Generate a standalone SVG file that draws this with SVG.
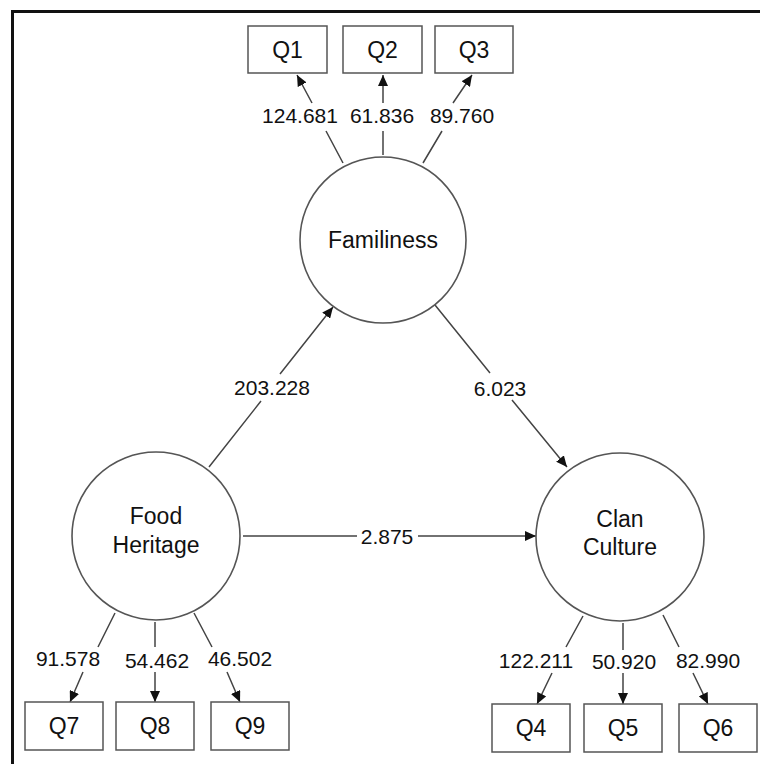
<svg xmlns="http://www.w3.org/2000/svg" width="760" height="764" viewBox="0 0 760 764">
<defs>
<marker id="arr" markerUnits="userSpaceOnUse" markerWidth="12" markerHeight="10" refX="11" refY="5" orient="auto">
<path d="M0,0 L11,5 L0,10 Z" fill="#111"/>
</marker>
<style>
.box{fill:#fff;stroke:#555;stroke-width:1.5}
.lat{fill:#fff;stroke:#555;stroke-width:1.6}
.t{font-family:"Liberation Sans",Arial,sans-serif;font-size:23px;fill:#111;text-anchor:middle}
.n{font-family:"Liberation Sans",Arial,sans-serif;font-size:21px;fill:#111;text-anchor:middle}
.c{fill:none;stroke:#444;stroke-width:1.5;marker-end:url(#arr)}
.frame{stroke:#111;stroke-width:3;fill:none}
</style>
</defs>
<rect width="760" height="764" fill="#fff"/>
<path class="frame" d="M12.5,764 L12.5,11.5 L760,11.5"/>

<g id="connectors">
<path class="c" d="M343,163 L326,131 M312,103 L297,75"/>
<path class="c" d="M383,155 L383,131 M383,103 L383,75"/>
<path class="c" d="M423,163 L442,131 M453,103 L472,75"/>
<path class="c" d="M209,467 L261,401 M280,374 L333,307"/>
<path class="c" d="M435,305 L490,373 M512,400 L567,467"/>
<path class="c" d="M243,536 L357,536 M418,536 L536,536"/>
<path class="c" d="M115,613 L98,647 M83,672 L70,702"/>
<path class="c" d="M155,622 L155,647 M155,672 L155,702"/>
<path class="c" d="M194,613 L212,647 M227,672 L240,702"/>
<path class="c" d="M583,616 L566,647 M552,673 L537,704"/>
<path class="c" d="M623,623 L623,650 M623,673 L623,704"/>
<path class="c" d="M663,615 L679,647 M693,673 L708,704"/>
</g>

<g id="labels">
<text class="n" x="300" y="123">124.681</text>
<text class="n" x="382" y="123">61.836</text>
<text class="n" x="462" y="123">89.760</text>
<text class="n" x="272" y="395">203.228</text>
<text class="n" x="500" y="396">6.023</text>
<text class="n" x="387" y="544">2.875</text>
<text class="n" x="68" y="666">91.578</text>
<text class="n" x="157" y="668">54.462</text>
<text class="n" x="240" y="666">46.502</text>
<text class="n" x="536" y="668">122.211</text>
<text class="n" x="624" y="669">50.920</text>
<text class="n" x="708" y="668">82.990</text>
</g>

<g id="familiness"><circle class="lat" cx="383" cy="240" r="83"/><text class="t" x="383" y="248">Familiness</text></g>
<g id="food-heritage"><circle class="lat" cx="156" cy="536" r="84"/><text class="t" x="156" y="524">Food</text><text class="t" x="156" y="553">Heritage</text></g>
<g id="clan-culture"><circle class="lat" cx="620" cy="537" r="84"/><text class="t" x="620" y="527">Clan</text><text class="t" x="620" y="555">Culture</text></g>

<g id="q1"><rect class="box" x="248" y="26" width="79" height="47"/><text class="t" x="287.5" y="58">Q1</text></g>
<g id="q2"><rect class="box" x="343" y="26" width="79" height="47"/><text class="t" x="382.5" y="58">Q2</text></g>
<g id="q3"><rect class="box" x="435" y="26" width="78" height="47"/><text class="t" x="474" y="58">Q3</text></g>
<g id="q7"><rect class="box" x="25" y="702" width="78" height="48"/><text class="t" x="64" y="734">Q7</text></g>
<g id="q8"><rect class="box" x="116" y="702" width="78" height="48"/><text class="t" x="155" y="734">Q8</text></g>
<g id="q9"><rect class="box" x="211" y="702" width="78" height="48"/><text class="t" x="250" y="734">Q9</text></g>
<g id="q4"><rect class="box" x="492" y="704" width="78" height="48"/><text class="t" x="531" y="736">Q4</text></g>
<g id="q5"><rect class="box" x="584" y="704" width="78" height="48"/><text class="t" x="623" y="736">Q5</text></g>
<g id="q6"><rect class="box" x="679" y="704" width="78" height="48"/><text class="t" x="718" y="736">Q6</text></g>
</svg>
